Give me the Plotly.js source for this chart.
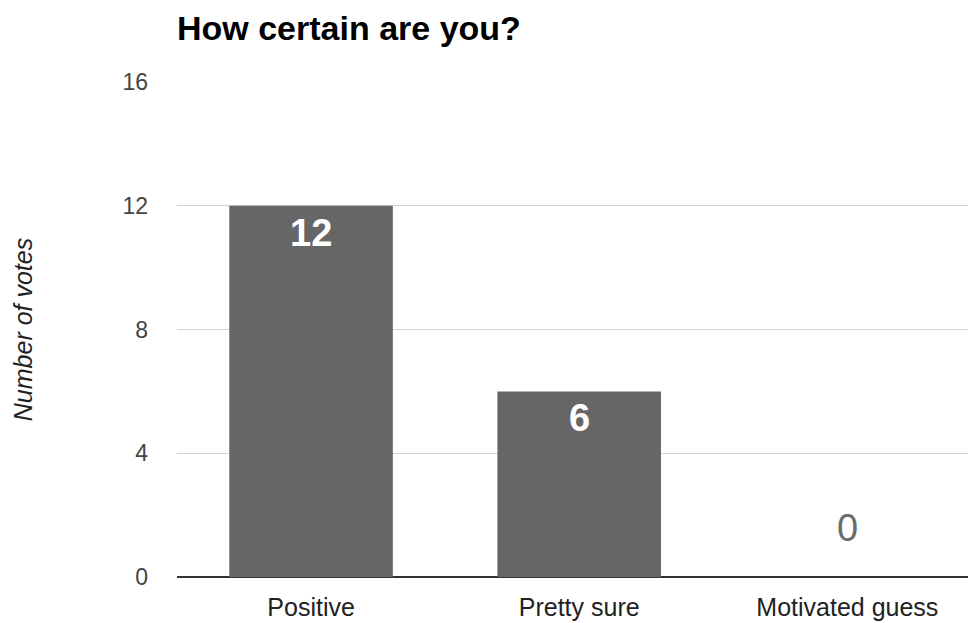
<!DOCTYPE html>
<html>
<head>
<meta charset="utf-8">
<script src="https://cdn.plot.ly/plotly-3.0.1.min.js"></script>
<style>
  html, body { margin: 0; padding: 0; background: #fff; }
  #chart { width: 968px; height: 623px; }
</style>
</head>
<body>
<div id="chart"></div>
<script>
// Survey answers and their vote counts
const categories = ["Positive", "Pretty sure", "Motivated guess"];
const votes = [12, 6, 0];
const yTicks = [0, 4, 8, 12, 16];

const FONT = "Liberation Sans, Arial, sans-serif";

const bars = {
  type: "bar",
  x: [0, 1, 2],
  y: votes,
  width: 0.61,
  marker: { color: "#666666", line: { width: 0 } },
  hoverinfo: "skip"
};

// Value labels: white inside non-empty bars, grey above the axis for empty ones
const labels = votes.map((v, i) => v > 0
  ? {
      x: i, y: v, xref: "x", yref: "y",
      text: String(v), showarrow: false,
      yanchor: "top", yshift: -4,
      font: { family: FONT, size: 38, color: "#ffffff", weight: "bold" }
    }
  : {
      x: i, y: v, xref: "x", yref: "y",
      text: String(v), showarrow: false,
      yanchor: "bottom", yshift: 26,
      font: { family: FONT, size: 38, color: "#6a6a6a" }
    });

const layout = {
  width: 968,
  height: 623,
  margin: { l: 177, r: 0, t: 82, b: 46 },
  paper_bgcolor: "#ffffff",
  plot_bgcolor: "#ffffff",
  showlegend: false,
  title: {
    text: "<b>How certain are you?</b>",
    font: { family: FONT, size: 34, color: "#000000" },
    x: 0, xref: "paper", xanchor: "left",
    y: 1, yref: "container", yanchor: "top", pad: { t: 16 }
  },
  xaxis: {
    range: [-0.5, 2.45],
    tickmode: "array",
    tickvals: [0, 1, 2],
    ticktext: categories,
    tickfont: { family: FONT, size: 25, color: "#222222" },
    showgrid: false,
    zeroline: false,
    showline: false,
    ticks: "",
    ticklabelstandoff: 13,
    fixedrange: true
  },
  yaxis: {
    range: [0, 16],
    tickmode: "array",
    tickvals: yTicks,
    ticktext: yTicks.map(String),
    tickfont: { family: FONT, size: 23, color: "#444444" },
    showgrid: true,
    gridcolor: "#d4d4d4",
    gridwidth: 1,
    zeroline: true,
    zerolinecolor: "#333333",
    zerolinewidth: 2,
    showline: false,
    ticks: "",
    ticklabelstandoff: 28,
    title: {
      text: "<i>Number of votes</i>",
      font: { family: FONT, size: 25, color: "#222222" },
      standoff: 82
    },
    fixedrange: true
  },
  annotations: labels
};

Plotly.newPlot("chart", [bars], layout, { displayModeBar: false, staticPlot: true });
</script>
</body>
</html>
